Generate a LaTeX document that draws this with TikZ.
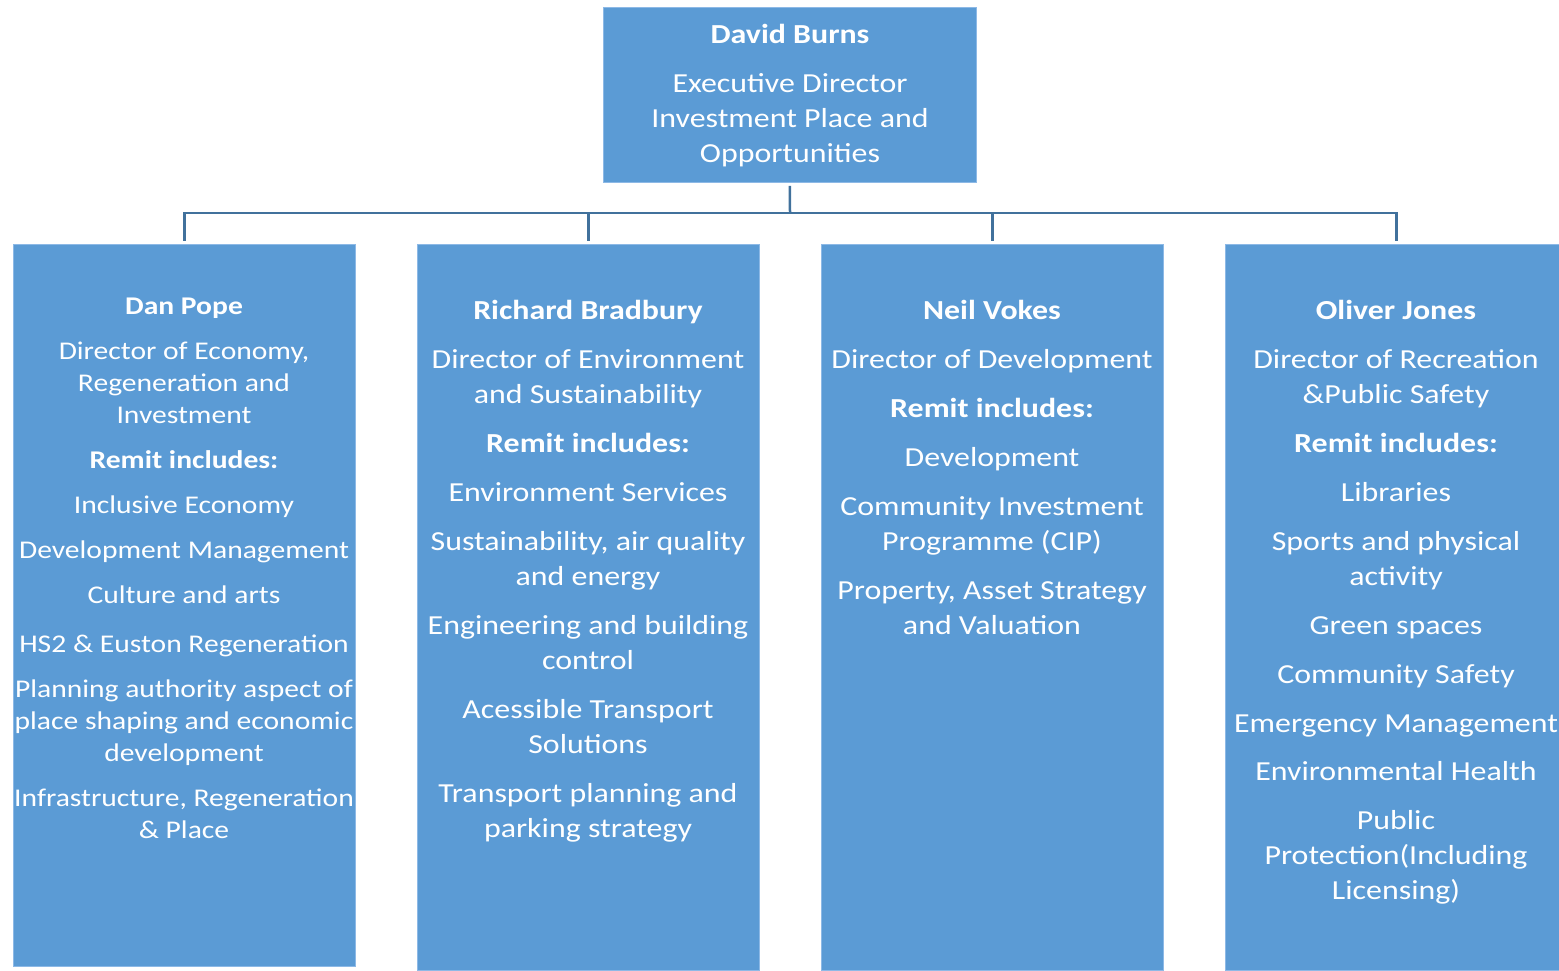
\documentclass[tikz,border=0pt]{standalone}
\usepackage{fontspec}
\setmainfont[FakeStretch=1.16]{Carlito}
\definecolor{boxblue}{HTML}{5B9BD5}
\definecolor{boxedge}{HTML}{8DB9E6}
\definecolor{linkblue}{HTML}{41719C}
\begin{document}
\begin{tikzpicture}[x=1pt,y=-1pt,
  box/.style={fill=boxblue, draw=boxedge, line width=0.8pt, inner sep=0pt, anchor=north west},
  txt/.style={text=white, align=center, anchor=north, inner sep=0pt, font=\fontsize{27.5}{35}\selectfont},
  smalltxt/.style={font=\fontsize{25.5}{32}\selectfont},
  link/.style={draw=linkblue, line width=2.5pt}]
\useasboundingbox (0,0) rectangle (1559,970);
\node[box, minimum width=373pt, minimum height=175pt] (top) at (603,7) {};
\node[box, minimum width=342pt, minimum height=722pt] (b1) at (13,244) {};
\node[box, minimum width=342pt, minimum height=726pt] (b2) at (417,244) {};
\node[box, minimum width=342pt, minimum height=726pt] (b3) at (821,244) {};
\node[box, minimum width=342pt, minimum height=726pt] (b4) at (1225,244) {};

\node[txt] (ttop) at (790,24) {\textbf{David Burns}\\[14pt]Executive Director\\Investment Place and\\Opportunities};
\node[txt, smalltxt] (t1) at (184,298) {\textbf{Dan Pope}\\[13pt]Director of Economy,\\Regeneration and\\Investment\\[13pt]\textbf{Remit includes:}\\[13pt]Inclusive Economy\\[13pt]Development Management\\[13pt]Culture and arts\\[17pt]HS2 \& Euston Regeneration\\[13pt]Planning authority aspect of\\place shaping and economic\\development\\[13pt]Infrastructure, Regeneration\\\& Place};
\node[txt] (t2) at (588,300) {\textbf{Richard Bradbury}\\[14pt]Director of Environment\\and Sustainability\\[14pt]\textbf{Remit includes:}\\[14pt]Environment Services\\[14pt]Sustainability, air quality\\and energy\\[14pt]Engineering and building\\control\\[14pt]Acessible Transport\\Solutions\\[14pt]Transport planning and\\parking strategy};
\node[txt] (t3) at (992,300) {\textbf{Neil Vokes}\\[14pt]Director of Development\\[14pt]\textbf{Remit includes:}\\[14pt]Development\\[14pt]Community Investment\\Programme (CIP)\\[14pt]Property, Asset Strategy\\and Valuation};
\node[txt] (t4) at (1396,300) {\textbf{Oliver Jones}\\[14pt]Director of Recreation\\\&Public Safety\\[14pt]\textbf{Remit includes:}\\[14pt]Libraries\\[14pt]Sports and physical\\activity\\[14pt]Green spaces\\[14pt]Community Safety\\[14pt]Emergency Management\\[13pt]Environmental Health\\[14pt]Public\\Protection(Including\\Licensing)};

\coordinate (hub) at (790,213);
\draw[link, shorten <=3pt] (top.south) -- (hub);
\draw[link, shorten >=3pt] (hub) -| (b1.north);
\draw[link, shorten >=3pt] (hub) -| (b2.north);
\draw[link, shorten >=3pt] (hub) -| (b3.north);
\draw[link, shorten >=3pt] (hub) -| (b4.north);
\end{tikzpicture}
\end{document}
